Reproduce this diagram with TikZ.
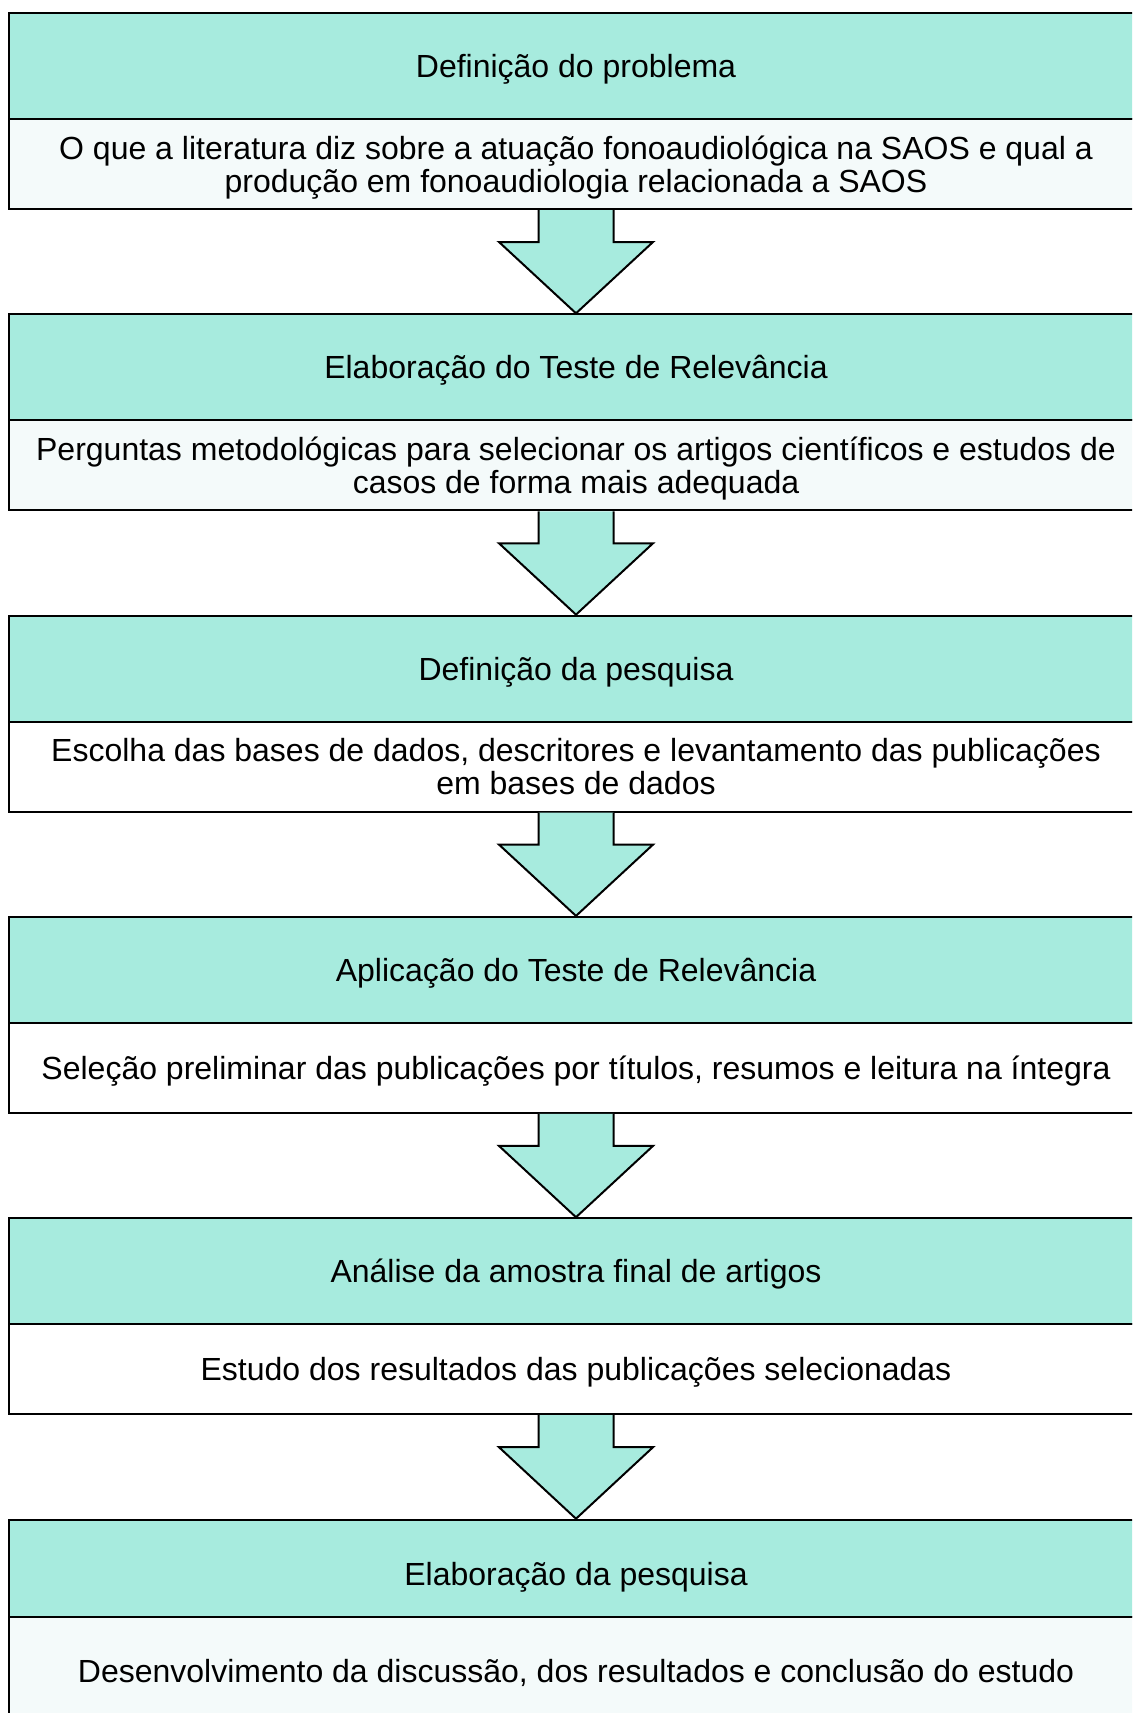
\documentclass[tikz,border=0pt]{standalone}
\usepackage{fontspec}
\setmainfont{Liberation Sans}
\usetikzlibrary{calc}
\definecolor{headfill}{HTML}{A7EBDE}
\definecolor{paletint}{HTML}{F4FAFA}
\begin{document}
\begin{tikzpicture}[x=0.5pt, y=-0.5pt,
  head/.style={draw, line width=1pt, fill=headfill, minimum width=567.5pt, minimum height=53pt, inner sep=0pt, align=center, text depth=0pt, font=\fontsize{16}{16.5}\selectfont},
  body/.style={draw, line width=1pt, minimum width=567.5pt, minimum height=45pt, inner sep=0pt, align=center, text depth=0pt, font=\fontsize{16}{16.5}\selectfont},
  blockarrow/.style={draw, line width=1pt, fill=headfill, line join=miter}]
\clip (0,0) rectangle (1132,1713);
\fill[white] (0,0) rectangle (1132,1713);
\node[head] (h1) at (576,66){Definição do problema};
\node[body, fill=paletint] (b1) at (576,164){O que a literatura diz sobre a atuação fonoaudiológica na SAOS e qual a\\produção em fonoaudiologia relacionada a SAOS};
\node[head] (h2) at (576,367.3){Elaboração do Teste de Relevância};
\node[body, fill=paletint] (b2) at (576,465.3){Perguntas metodológicas para selecionar os artigos científicos e estudos de\\casos de forma mais adequada};
\node[head] (h3) at (576,668.6){Definição da pesquisa};
\node[body, fill=white] (b3) at (576,766.6){Escolha das bases de dados, descritores e levantamento das publicações\\em bases de dados};
\node[head] (h4) at (576,969.9){Aplicação do Teste de Relevância};
\node[body, fill=white] (b4) at (576,1067.9){Seleção preliminar das publicações por títulos, resumos e leitura na íntegra};
\node[head] (h5) at (576,1271.2){Análise da amostra final de artigos};
\node[body, fill=white] (b5) at (576,1369.2){Estudo dos resultados das publicações selecionadas};
\node[head, minimum height=48.5pt, text height=17pt] (h6) at (576,1568.2){Elaboração da pesquisa};
\node[body, fill=paletint, minimum height=54pt] (b6) at (576,1670.9){Desenvolvimento da discussão, dos resultados e conclusão do estudo};
\foreach \a/\b in {b1/h2, b2/h3, b3/h4, b4/h5, b5/h6}{
  \draw[blockarrow] ($(\a.south)+(-37.5,0)$) -- ++(0,32) -- ++(-39.5,0) -- (\b.north)
    -- ($(\a.south)+(77,32)$) -- ++(-39.5,0) -- ($(\a.south)+(37.5,0)$);
}
\end{tikzpicture}
\end{document}
